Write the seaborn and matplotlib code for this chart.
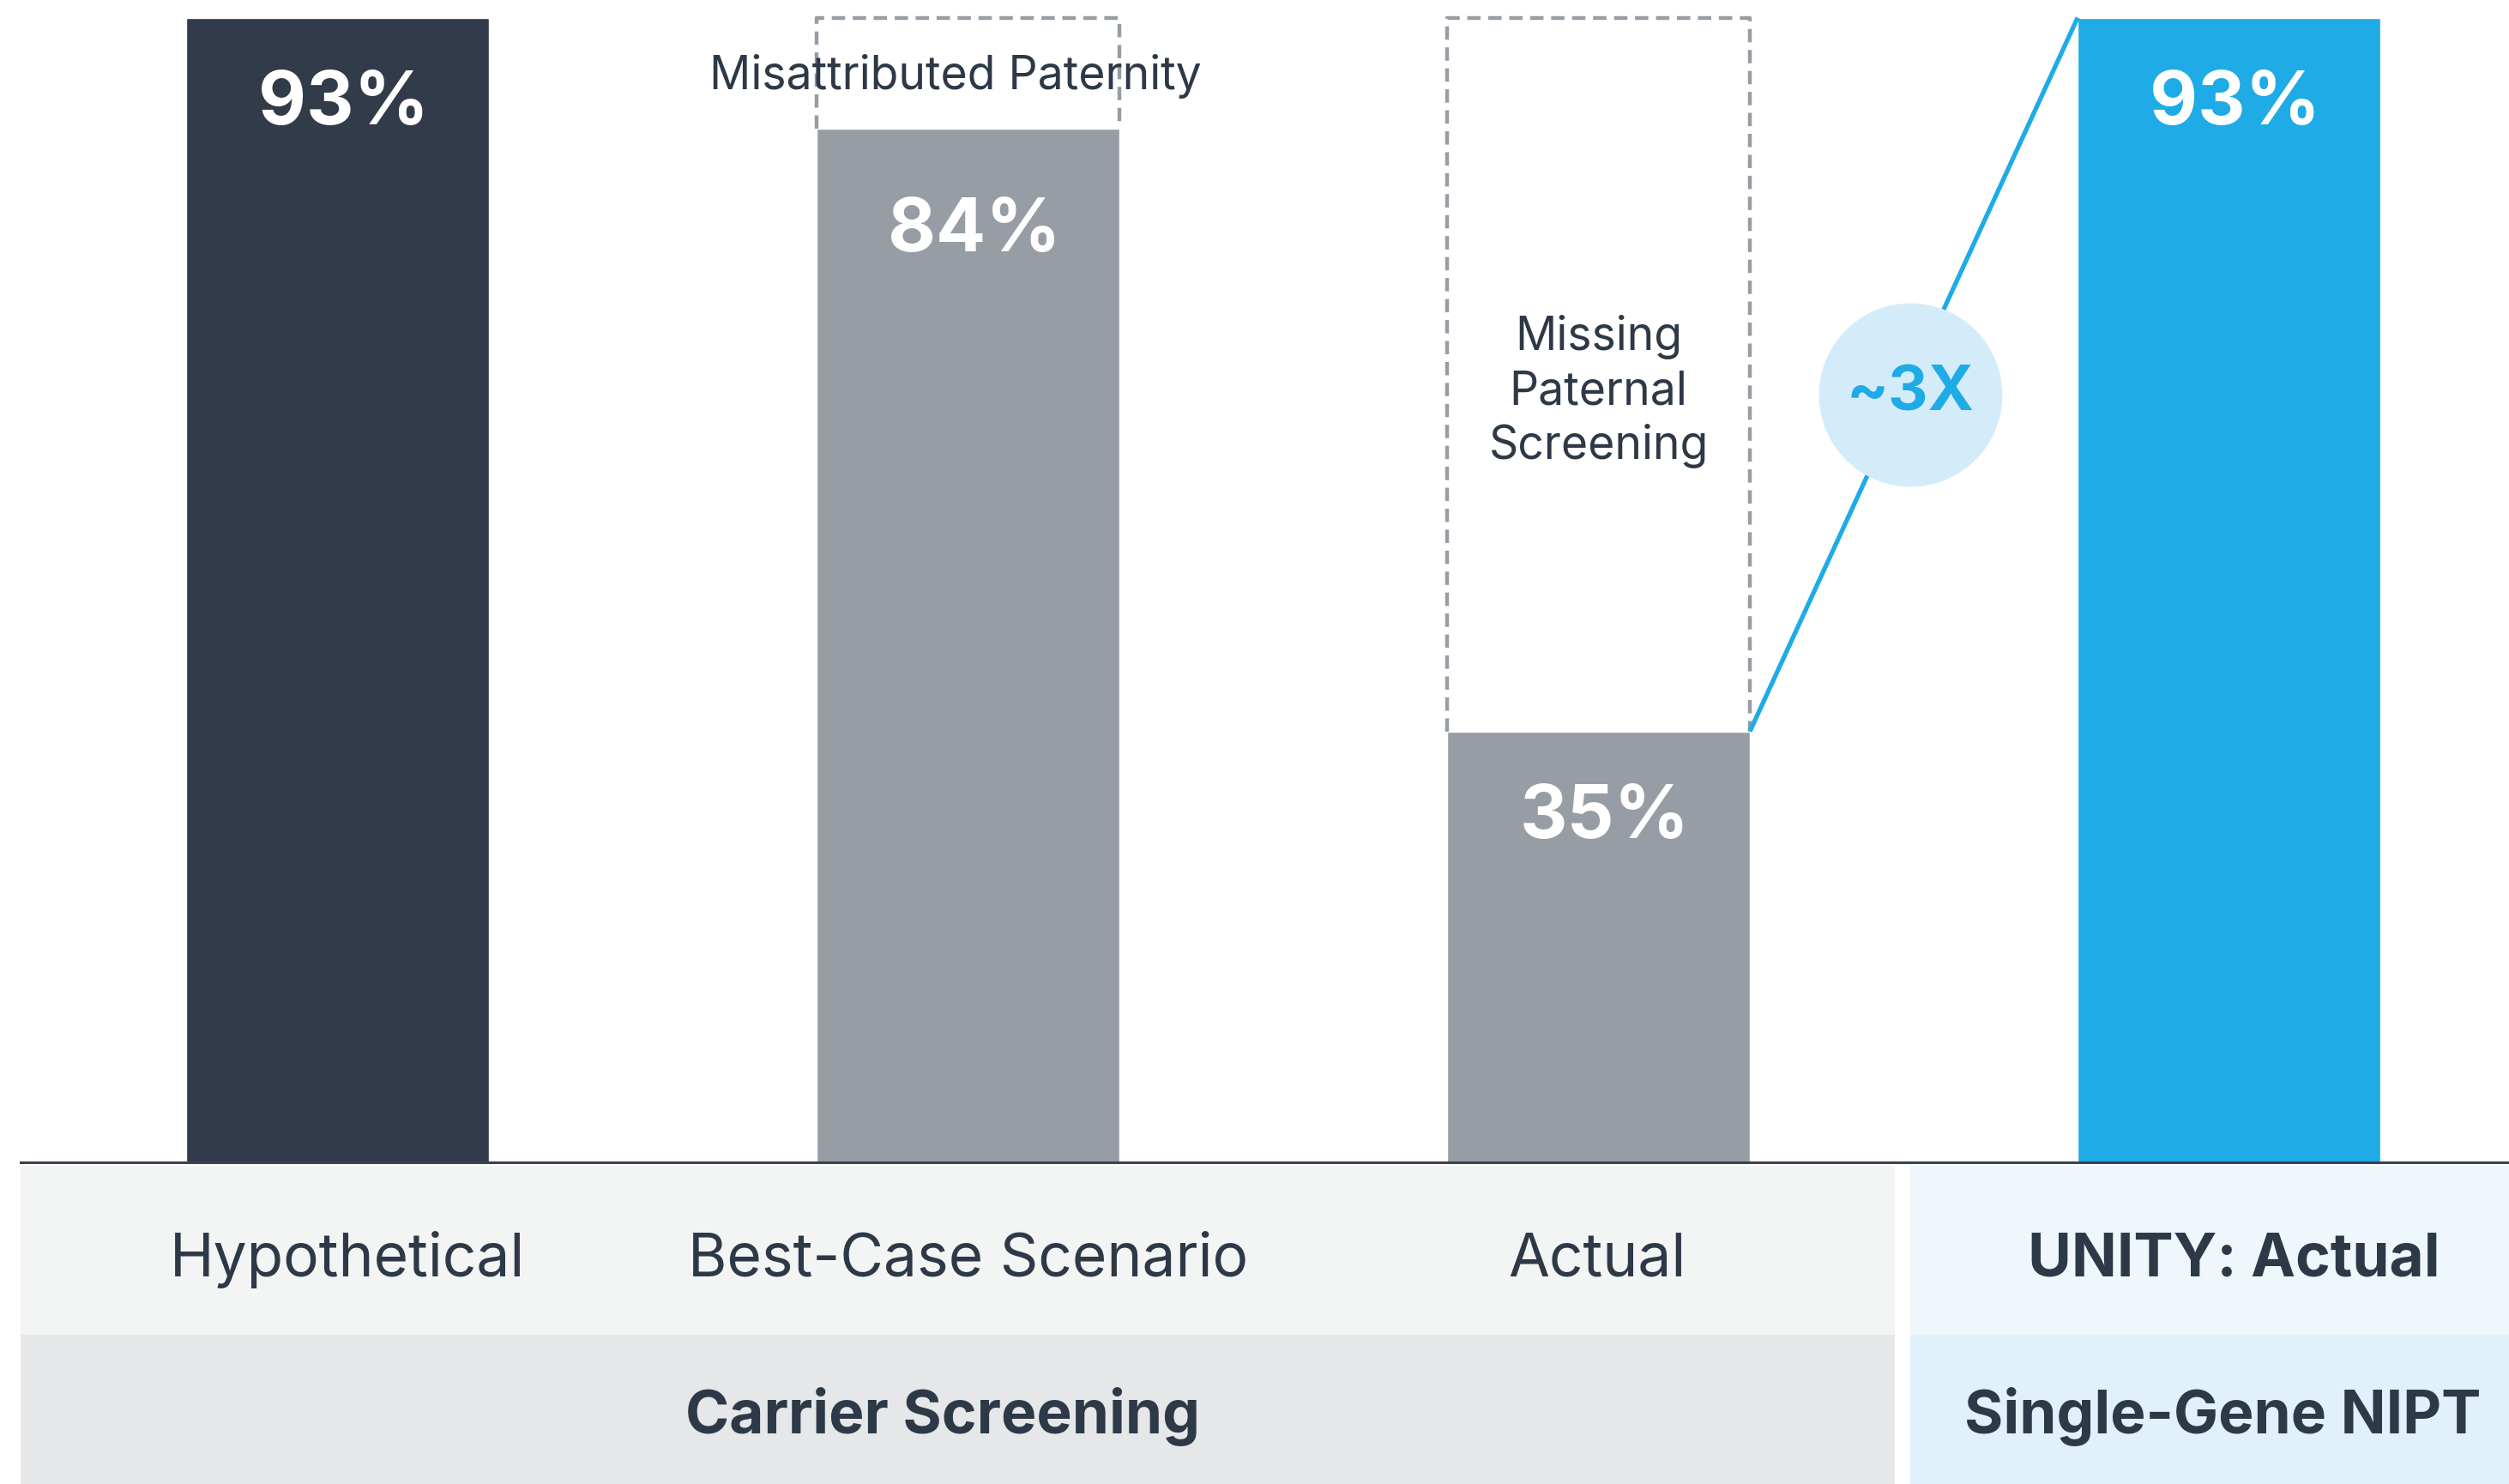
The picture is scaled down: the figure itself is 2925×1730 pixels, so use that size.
import matplotlib
matplotlib.use("Agg")
import matplotlib.pyplot as plt
from matplotlib.patches import Rectangle
import seaborn as sns
import pandas as pd

# values
scenarios = ["Hypothetical", "Best-Case Scenario", "Actual", "UNITY: Actual"]
rates = [93, 84, 35, 93]
bar_labels = ["93%", "84%", "35%", "93%"]
potential = 93
gap_labels = {1: "Misattributed Paternity", 2: "Missing\nPaternal\nScreening"}
groups = ["Carrier Screening", "Single-Gene NIPT"]
multiplier = "~3X"

dark = "#313b49"
grey = "#979da4"
blue = "#1eabe6"
text_col = "#2e3947"
colors = [dark, grey, grey, blue]

sns.set_theme(style="white")
plt.rcParams["font.family"] = ["Inter", "DejaVu Sans"]

W, H = 1568, 927  # layout measured on the shrunk picture
fig = plt.figure(figsize=(29.25, 17.30), dpi=100)
ax = fig.add_axes([13 / W, 1 - 726 / H, 1 - 13 / W, 726 / H])

df = pd.DataFrame({"scenario": scenarios, "rate": rates})
sns.barplot(data=df, x="scenario", y="rate", hue="scenario", palette=colors,
            width=0.48, saturation=1, legend=False, ax=ax, zorder=2)

x_left = (13 - 211) / 394
x_right = (W - 211) / 394
ax.set_xlim(x_left, x_right)
ax.set_ylim(0, potential * 726 / 715)
ax.set_xlabel("")
ax.set_ylabel("")
ax.set_xticks([])
ax.set_yticks([])
for s in ["top", "left", "right"]:
    ax.spines[s].set_visible(False)
ax.spines["bottom"].set_color("#3a4350")
ax.spines["bottom"].set_linewidth(2.2)

half = 0.24
# dashed outline (three sides) showing the gap to the potential rate
for i in gap_labels:
    ax.plot([i - half, i - half, i + half, i + half],
            [rates[i], potential, potential, rates[i]],
            color=grey, lw=3.2, linestyle=(0, (3.5, 2)), zorder=1)

label_drop = [7.1, 8.4, 7.1, 7.1]
for i, (r, lab) in enumerate(zip(rates, bar_labels)):
    ax.text(i + 0.01, r - label_drop[i], lab, ha="center", va="center",
            color="white", fontsize=62, fontweight="bold", zorder=3)

ax.text(0.98, 88.2, gap_labels[1], ha="center", va="center", color=text_col,
        fontsize=38.5, zorder=3)
ax.text(2.0, 62.6, gap_labels[2], ha="center", va="center", color=text_col,
        fontsize=38.5, linespacing=1.3)

# connector between the actual bars
ax.plot([2 + half, 3 - half], [rates[2], rates[3]], color=blue, lw=3.8,
        solid_capstyle="butt", zorder=3)
ax.plot([2.495], [62.4], marker="o", markersize=154, color="#d4ecf9",
        markeredgewidth=0, zorder=4)
ax.text(2.495, 62.4, multiplier, ha="center", va="center", color=blue,
        fontsize=52, fontweight="bold", zorder=5)

# label table below the bars
tab = fig.add_axes([13 / W, 0, 1 - 13 / W, (H - 728) / H])
tab.set_xlim(x_left, x_right)
tab.set_ylim(0, H - 728)
tab.axis("off")
split_l = (1184 - 211) / 394
split_r = (1194 - 211) / 394
lower = H - 834
tab.add_patch(Rectangle((x_left, lower), split_l - x_left, H - 728 - lower,
                        color="#f3f5f5", lw=0))
tab.add_patch(Rectangle((x_left, 0), split_l - x_left, lower,
                        color="#e5e7e9", lw=0))
tab.add_patch(Rectangle((split_r, lower), x_right - split_r, H - 728 - lower,
                        color="#eff7fc", lw=0))
tab.add_patch(Rectangle((split_r, 0), x_right - split_r, lower,
                        color="#e1f1fb", lw=0))

label_x = [(217 - 211) / 394, 1, (998 - 211) / 394, (1396 - 211) / 394]
for i, (x, lab) in enumerate(zip(label_x, scenarios)):
    tab.text(x, H - 787, lab, ha="center", va="center", color=text_col,
             fontsize=50, fontweight="bold" if i == 3 else "normal")
tab.text((589 - 211) / 394, H - 885, groups[0], ha="center", va="center",
         color=text_col, fontsize=50, fontweight="bold")
tab.text((1389 - 211) / 394, H - 885, groups[1], ha="center", va="center",
         color=text_col, fontsize=50, fontweight="bold")

fig.savefig("out.png", dpi=100, facecolor="white")
